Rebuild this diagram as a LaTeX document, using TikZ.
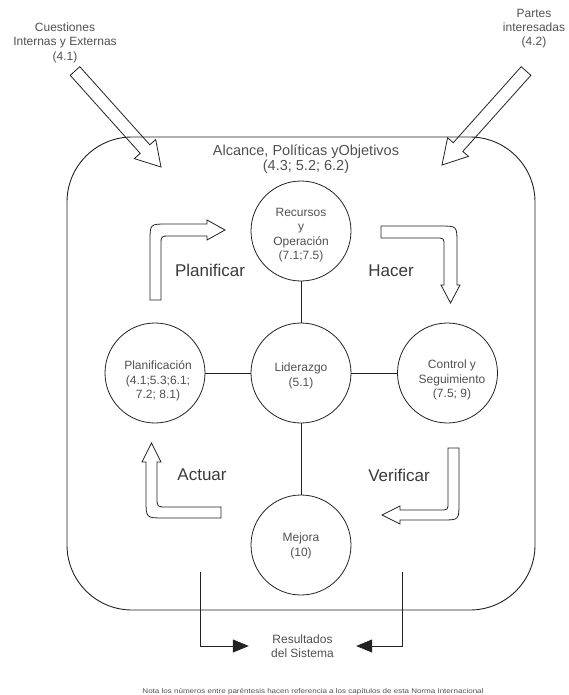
\documentclass[tikz,border=0pt]{standalone}
\usepackage{fontspec}
\usepackage{graphicx}
\setmainfont{Liberation Sans}
\usetikzlibrary{arrows.meta}
\definecolor{ink}{HTML}{222222}
\definecolor{txt}{HTML}{505050}
\definecolor{lbl}{HTML}{3A3A3A}
\begin{document}
\begin{tikzpicture}[x=1pt,y=-1pt,
  line/.style={draw=ink,line width=0.8pt},
  circ/.style={circle,draw=ink,line width=0.8pt,minimum size=100pt,inner sep=0pt},
  small/.style={text=txt,font=\fontsize{12}{14.5}\selectfont,align=center,inner sep=0pt},
  big/.style={text=lbl,font=\fontsize{17}{20}\selectfont,inner sep=0pt},
  hollow/.style={draw=ink,line width=0.8pt,line join=miter}]
\useasboundingbox (0,0) rectangle (569,695);

% outer rounded frame
\draw[draw=ink,line width=0.9pt,rounded corners=65pt] (67,137) rectangle (535,610);

% top labels
\node[small] (cue) at (65,42.5) {Cuestiones\\Internas y Externas\\(4.1)};
\node[small,font=\fontsize{12}{14}\selectfont] (par) at (534,29) {Partes\\interesadas\\(4.2)};

% title
\node[small,font=\fontsize{14.5}{15}\selectfont] (title) at (306,159.5) {Alcance, Políticas yObjetivos\\(4.3; 5.2; 6.2)};

% diagonal hollow arrows
\draw[hollow] (79.8,66.7) -- (149.8,144.8) -- (155.7,139.6) -- (161,167) -- (134.3,158.6) -- (140.2,153.4) -- (70.2,75.3) -- cycle;
\draw[hollow] (521.2,66.7) -- (453.2,142.8) -- (447.6,137.8) -- (442,165) -- (468.4,156.4) -- (462.8,151.4) -- (530.9,75.3) -- cycle;

% circles
\node[circ] (rec) at (301,231) {};
\node[circ] (lid) at (301,373) {};
\node[circ] (pla) at (155,373) {};
\node[circ] (con) at (447.5,373) {};
\node[circ] (mej) at (301,545) {};

\node[small] (recT) at (301,235) {Recursos\\y\\Operación\\(7.1;7.5)};
\node[small] (lidT) at (301,376) {Liderazgo\\(5.1)};
\node[small] (plaT) at (158,381) {Planificación\\(4.1;5.3;6.1;\\7.2; 8.1)};
\node[small] (conT) at (452,380) {Control y\\Seguimiento\\(7.5; 9)};
\node[small] (mejT) at (301,546) {Mejora\\(10)};

% spokes
\draw[line] (rec) -- (lid);
\draw[line] (pla) -- (lid);
\draw[line] (lid) -- (con);
\draw[line] (lid) -- (mej);

% PDCA labels
\node[big] (lplan) at (210,270.5) {Planificar};
\node[big] (lhac) at (391,270.5) {Hacer};
\node[big] (lact) at (202,474.5) {Actuar};
\node[big] (lver) at (399,475.5) {Verificar};

% bent hollow arrows
\draw[hollow] (150,300) -- (150,241) .. controls (150,224) .. (167,224) -- (207,224) -- (207,220) -- (225,230) -- (207,240) -- (207,236) -- (170,236) .. controls (161,236) .. (161,245) -- (161,300) -- cycle;
\draw[hollow] (381,226) -- (440,226) .. controls (457,226) .. (457,243) -- (457,285) -- (460,285) -- (450.5,303) -- (441,285) -- (444,285) -- (444,246) .. controls (444,238) .. (436,238) -- (381,238) -- cycle;
\draw[hollow] (221,507) -- (167,507) .. controls (157,507) .. (157,497) -- (157,462) -- (161,462) -- (151.5,443) -- (142,462) -- (146,462) -- (146,500) .. controls (146,518) .. (164,518) -- (221,518) -- cycle;
\draw[hollow] (448,448) -- (459,448) -- (459,503) .. controls (459,520) .. (442,520) -- (400,520) -- (400,524) -- (382,515) -- (400,506) -- (400,510) -- (440,510) .. controls (448,510) .. (448,502) -- cycle;

% results
\coordinate (la) at (200,572);
\coordinate (ra) at (402,572);
\node[small,minimum width=107pt] (res) at (302.5,646) {Resultados\\del Sistema};
\draw[line,-{Triangle[length=16pt,width=13pt]}] (la) |- (res.west);
\draw[line,-{Triangle[length=16pt,width=13pt]}] (ra) |- (res.east);

% note
\node[inner sep=0pt,text=txt] (nota) at (313,692) {\resizebox{341pt}{5pt}{\fontsize{6}{7}\selectfont Nota los números entre paréntesis hacen referencia a los capítulos de esta Norma Internacional}};
\end{tikzpicture}
\end{document}
